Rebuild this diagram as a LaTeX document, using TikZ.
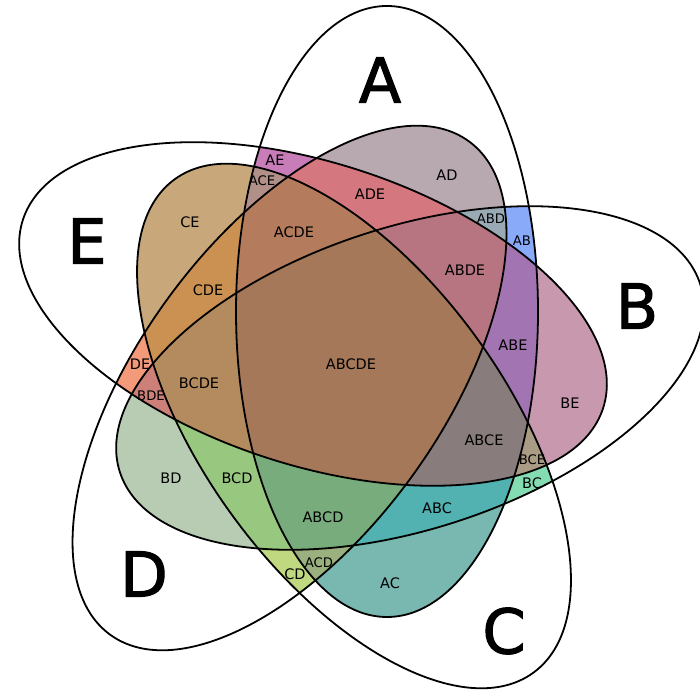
\documentclass[tikz,border=0pt]{standalone}
\usepackage{fontspec}
\setmainfont{DejaVu Sans}
\newfontfamily\BigLetters[FakeBold=1.6]{DejaVu Sans}
\definecolor{cAB}{HTML}{88AAF8}
\definecolor{cAC}{HTML}{78B8B0}
\definecolor{cAD}{HTML}{B8A8B0}
\definecolor{cAE}{HTML}{C87DB9}
\definecolor{cBC}{HTML}{84DDB2}
\definecolor{cBD}{HTML}{B8CCB3}
\definecolor{cBE}{HTML}{C898AE}
\definecolor{cCD}{HTML}{C0D880}
\definecolor{cCE}{HTML}{C8A77B}
\definecolor{cDE}{HTML}{F39A7B}
\definecolor{cABC}{HTML}{52B2B2}
\definecolor{cABD}{HTML}{9AAAB4}
\definecolor{cABE}{HTML}{A274B2}
\definecolor{cACD}{HTML}{9AB07E}
\definecolor{cACE}{HTML}{B09088}
\definecolor{cADE}{HTML}{D5777E}
\definecolor{cBCD}{HTML}{98C87F}
\definecolor{cBCE}{HTML}{AA9C84}
\definecolor{cBDE}{HTML}{CC8078}
\definecolor{cCDE}{HTML}{CB9152}
\definecolor{cABCD}{HTML}{78AC7C}
\definecolor{cABCE}{HTML}{887C7C}
\definecolor{cABDE}{HTML}{B67580}
\definecolor{cACDE}{HTML}{B47C5C}
\definecolor{cBCDE}{HTML}{B48B5E}
\definecolor{cABCDE}{HTML}{A47858}
\newcommand{\ClipA}{\clip[rotate around={90:(387,380.5)}] (387,380.5) ellipse [x radius=305.5, y radius=151];}
\newcommand{\ClipB}{\clip[rotate around={18:(410,314)}] (410,314) ellipse [x radius=305, y radius=151];}
\newcommand{\ClipC}{\clip[rotate around={-54:(354,266)}] (354,266) ellipse [x radius=305, y radius=151];}
\newcommand{\ClipD}{\clip[rotate around={54:(289.5,304)}] (289.5,304) ellipse [x radius=305, y radius=151];}
\newcommand{\ClipE}{\clip[rotate around={-18:(313,378)}] (313,378) ellipse [x radius=305, y radius=151];}
\newcommand{\Region}[2]{\begin{scope}#1\fill[#2] (0,0) rectangle (700,692);\end{scope}}
\begin{document}
\begin{tikzpicture}[x=1pt,y=1pt,
  ring/.style={draw=black, line width=1.8pt},
  lab/.style={inner sep=0pt, font=\fontsize{14.5}{16}\selectfont},
  slab/.style={inner sep=0pt, font=\fontsize{13.2}{15}\selectfont},
  big/.style={inner sep=0pt, font=\BigLetters\fontsize{62}{70}\selectfont}]
\useasboundingbox (0,0) rectangle (700,692);
\fill[white] (0,0) rectangle (700,692);
% two sets
\Region{\ClipA\ClipB}{cAB}
\Region{\ClipA\ClipC}{cAC}
\Region{\ClipA\ClipD}{cAD}
\Region{\ClipA\ClipE}{cAE}
\Region{\ClipB\ClipC}{cBC}
\Region{\ClipB\ClipD}{cBD}
\Region{\ClipB\ClipE}{cBE}
\Region{\ClipC\ClipD}{cCD}
\Region{\ClipC\ClipE}{cCE}
\Region{\ClipD\ClipE}{cDE}
% three sets
\Region{\ClipA\ClipB\ClipC}{cABC}
\Region{\ClipA\ClipB\ClipD}{cABD}
\Region{\ClipA\ClipB\ClipE}{cABE}
\Region{\ClipA\ClipC\ClipD}{cACD}
\Region{\ClipA\ClipC\ClipE}{cACE}
\Region{\ClipA\ClipD\ClipE}{cADE}
\Region{\ClipB\ClipC\ClipD}{cBCD}
\Region{\ClipB\ClipC\ClipE}{cBCE}
\Region{\ClipB\ClipD\ClipE}{cBDE}
\Region{\ClipC\ClipD\ClipE}{cCDE}
% four sets
\Region{\ClipA\ClipB\ClipC\ClipD}{cABCD}
\Region{\ClipA\ClipB\ClipC\ClipE}{cABCE}
\Region{\ClipA\ClipB\ClipD\ClipE}{cABDE}
\Region{\ClipA\ClipC\ClipD\ClipE}{cACDE}
\Region{\ClipB\ClipC\ClipD\ClipE}{cBCDE}
% five sets
\Region{\ClipA\ClipB\ClipC\ClipD\ClipE}{cABCDE}
% outlines
\draw[ring, rotate around={90:(387,380.5)}] (387,380.5) ellipse [x radius=305.5, y radius=151];
\draw[ring, rotate around={18:(410,314)}] (410,314) ellipse [x radius=305, y radius=151];
\draw[ring, rotate around={-54:(354,266)}] (354,266) ellipse [x radius=305, y radius=151];
\draw[ring, rotate around={54:(289.5,304)}] (289.5,304) ellipse [x radius=305, y radius=151];
\draw[ring, rotate around={-18:(313,378)}] (313,378) ellipse [x radius=305, y radius=151];
% set names
\node[big] (nA) at (380,612) {A};
\node[big] (nB) at (637,386) {B};
\node[big] (nC) at (504,61) {C};
\node[big] (nD) at (144,118) {D};
\node[big] (nE) at (87,451) {E};
% region labels
\node[lab] (rAE) at (275,532) {AE};
\node[slab] (rACE) at (262,511) {ACE};
\node[lab] (rADE) at (370,498) {ADE};
\node[lab] (rAD) at (447,517) {AD};
\node[lab] (rACDE) at (294,460) {ACDE};
\node[lab] (rCE) at (190,470) {CE};
\node[lab] (rCDE) at (208,402) {CDE};
\node[slab] (rABD) at (491,473) {ABD};
\node[slab] (rAB) at (522,451) {AB};
\node[lab] (rABDE) at (465,422) {ABDE};
\node[lab] (rABE) at (513,347) {ABE};
\node[lab] (rABCDE) at (351,328) {ABCDE};
\node[lab] (rDE) at (140,328) {DE};
\node[slab] (rBDE) at (151,296) {BDE};
\node[lab] (rBCDE) at (199,309) {BCDE};
\node[lab] (rBE) at (570,289) {BE};
\node[lab] (rABCE) at (484,252) {ABCE};
\node[slab] (rBCE) at (532,232) {BCE};
\node[lab] (rBC) at (532,209) {BC};
\node[lab] (rBD) at (171,214) {BD};
\node[lab] (rBCD) at (237,214) {BCD};
\node[lab] (rABC) at (437,184) {ABC};
\node[lab] (rABCD) at (323,175) {ABCD};
\node[slab] (rACD) at (319,129) {ACD};
\node[lab] (rCD) at (295,118) {CD};
\node[lab] (rAC) at (390,109) {AC};
\end{tikzpicture}
\end{document}
